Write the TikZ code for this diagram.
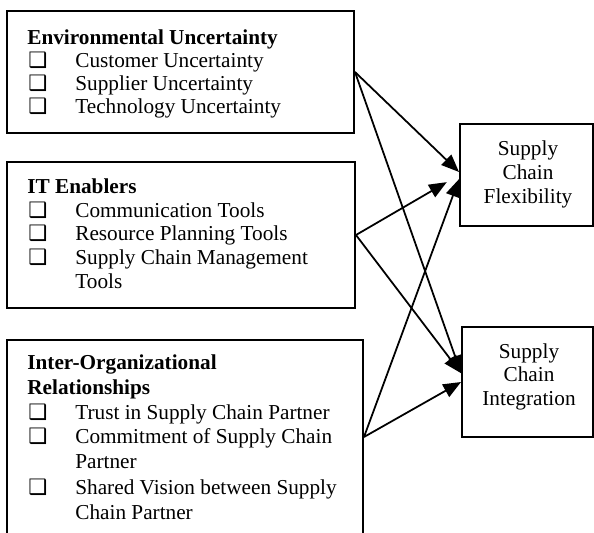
\documentclass[tikz,border=0pt]{standalone}
\usepackage{fontspec}
\setmainfont{Liberation Serif}
\newfontfamily\djv{DejaVu Sans}
\usetikzlibrary{arrows.meta}
\newcommand{\chkbox}{{\djv\fontsize{12}{12}\selectfont ❑}}
\begin{document}
\begin{tikzpicture}[x=0.5646pt,y=-0.5646pt,
  box/.style={draw,line width=1.1pt,inner sep=0pt},
  txt/.style={anchor=base west,inner sep=0pt,font=\fontsize{12}{14}\selectfont},
  ttl/.style={txt,font=\fontsize{12}{14}\selectfont\bfseries},
  chk/.style={anchor=base west,inner sep=0pt},
  ctr/.style={anchor=base,inner sep=0pt,font=\fontsize{12}{14}\selectfont},
  arr/.style={-{Triangle[length=10pt,width=8pt]},line width=1pt}]
\useasboundingbox (0,0) rectangle (594,532);
\clip (0,0) rectangle (594,532);
% boxes
\node[box,minimum width=347*0.5646pt,minimum height=122*0.5646pt] (b1) at (180.5,72) {};
\node[box,minimum width=348*0.5646pt,minimum height=146*0.5646pt] (b2) at (181,235) {};
\node[box,minimum width=356*0.5646pt,minimum height=194*0.5646pt] (b3) at (185,437) {};
\node[box,minimum width=133*0.5646pt,minimum height=102*0.5646pt] (scf) at (526.5,175) {};
\node[box,minimum width=131*0.5646pt,minimum height=110*0.5646pt] (sci) at (527.5,382) {};
% box 1 text
\node[ttl] (t1) at (27,44) {Environmental Uncertainty};
\node[chk] (c11) at (28,67) {\chkbox};
\node[txt] (t11) at (75,67) {Customer Uncertainty};
\node[chk] (c12) at (28,90) {\chkbox};
\node[txt] (t12) at (75,90) {Supplier Uncertainty};
\node[chk] (c13) at (28,113) {\chkbox};
\node[txt] (t13) at (75,113) {Technology Uncertainty};
% box 2 text
\node[ttl] (t2) at (27,193) {IT Enablers};
\node[chk] (c21) at (28,217) {\chkbox};
\node[txt] (t21) at (75,217) {Communication Tools};
\node[chk] (c22) at (28,240) {\chkbox};
\node[txt] (t22) at (75,240) {Resource Planning Tools};
\node[chk] (c23) at (28,264) {\chkbox};
\node[txt] (t23) at (75,264) {Supply Chain Management};
\node[txt] (t24) at (75,288) {Tools};
% box 3 text
\node[ttl] (t3) at (27,369) {Inter-Organizational};
\node[ttl] (t3b) at (27,394) {Relationships};
\node[chk] (c31) at (28,419) {\chkbox};
\node[txt] (t31) at (75,419) {Trust in Supply Chain Partner};
\node[chk] (c32) at (28,443) {\chkbox};
\node[txt] (t32) at (75,443) {Commitment of Supply Chain};
\node[txt] (t33) at (75,468) {Partner};
\node[chk] (c34) at (28,494) {\chkbox};
\node[txt] (t34) at (75,494) {Shared Vision between Supply};
\node[txt] (t35) at (75,519) {Chain Partner};
% right boxes text
\node[ctr] (f1) at (528,155) {Supply};
\node[ctr] (f2) at (528,179) {Chain};
\node[ctr] (f3) at (528,203) {Flexibility};
\node[ctr] (i1) at (529,358) {Supply};
\node[ctr] (i2) at (529,381) {Chain};
\node[ctr] (i3) at (529,405) {Integration};
% arrows
\draw[arr] (b1.east) -- ([yshift=1.7pt]scf.west);
\draw[arr,shorten >=8pt] (b2.east) -- (scf.west);
\draw[arr] (b3.east) -- ([yshift=-2.3pt]scf.west);
\draw[arr] (b1.east) -- ([yshift=5pt]sci.west);
\draw[arr] (b2.east) -- ([yshift=5pt]sci.west);
\draw[arr] (b3.east) -- (sci.west);
\end{tikzpicture}
\end{document}
